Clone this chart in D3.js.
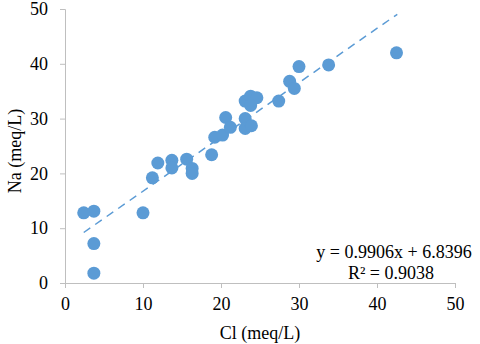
<!DOCTYPE html>
<html>
<head>
<meta charset="utf-8">
<script src="https://cdn.jsdelivr.net/npm/d3@7"></script>
<style>
  body { margin: 0; background: #fff; }
  svg text { font-family: "Liberation Serif", "Times New Roman", serif; fill: #000; }
</style>
</head>
<body>
<svg id="chart" width="480" height="344"></svg>
<script>
// Cl (meq/L) vs Na (meq/L)
const clValues = [2.4, 3.7, 3.7, 3.7, 10.0, 11.2, 11.9, 13.7, 13.7, 15.6, 16.3, 16.3,
  18.8, 19.2, 20.2, 20.6, 21.2, 23.1, 23.1, 23.9, 23.1, 23.8, 24.6, 23.8, 27.4,
  28.8, 29.4, 30.0, 33.8, 42.5];
const naValues = [12.8, 13.1, 7.2, 1.8, 12.8, 19.2, 21.9, 22.4, 21.0, 22.6, 20.9, 20.0,
  23.4, 26.6, 27.0, 30.2, 28.4, 30.0, 28.2, 28.7, 33.2, 34.1, 33.8, 32.4, 33.2,
  36.8, 35.5, 39.5, 39.8, 42.0];
const xTicks = [0, 10, 20, 30, 40, 50];
const yTicks = [0, 10, 20, 30, 40, 50];
const slope = 0.9906, intercept = 6.8396;
const trendRange = [2.4, 42.6];
const eqLabel = "y = 0.9906x + 6.8396";
const r2Label = "R² = 0.9038";

const svg = d3.select('#chart');
const x = d3.scaleLinear().domain([0, 50]).range([65, 455]);
const y = d3.scaleLinear().domain([0, 50]).range([283, 9]);
const blue = '#5b9bd5';
const axisGrey = '#bfbfbf';
const serif = 'Liberation Serif, Times New Roman, serif';

// оси
const xAxis = svg.append('g')
  .attr('transform', `translate(0,${y(0)})`)
  .call(d3.axisBottom(x).tickValues(xTicks).tickSize(5).tickPadding(9));
const yAxis = svg.append('g')
  .attr('transform', `translate(${x(0)},0)`)
  .call(d3.axisLeft(y).tickValues(yTicks).tickSize(5).tickPadding(12));

[xAxis, yAxis].forEach(g => {
  g.attr('font-family', serif).attr('font-size', 18);
  g.select('.domain').attr('stroke', axisGrey);
  g.selectAll('.tick line').attr('stroke', axisGrey);
  g.selectAll('.tick text').attr('fill', '#000');
});

// тренд
svg.append('line')
  .attr('x1', x(trendRange[0]))
  .attr('y1', y(slope * trendRange[0] + intercept))
  .attr('x2', x(trendRange[1]))
  .attr('y2', y(slope * trendRange[1] + intercept))
  .attr('stroke', blue)
  .attr('stroke-width', 1.5)
  .attr('stroke-dasharray', '8,6');

// точки
svg.append('g')
  .selectAll('circle')
  .data(clValues.map((c, i) => [c, naValues[i]]))
  .enter().append('circle')
  .attr('cx', d => x(d[0]))
  .attr('cy', d => y(d[1]))
  .attr('r', 6.5)
  .attr('fill', blue);

// подписи
const label = (tx, ty, txt) => svg.append('text')
  .attr('x', tx).attr('y', ty)
  .attr('text-anchor', 'middle')
  .attr('font-family', serif)
  .attr('font-size', 18)
  .text(txt);

label(394, 258, eqLabel);
label(391, 279, r2Label);
label(260, 339, 'Cl (meq/L)');
label(0, 0, 'Na (meq/L)').attr('transform', 'translate(21,151) rotate(-90)');
</script>
</body>
</html>
